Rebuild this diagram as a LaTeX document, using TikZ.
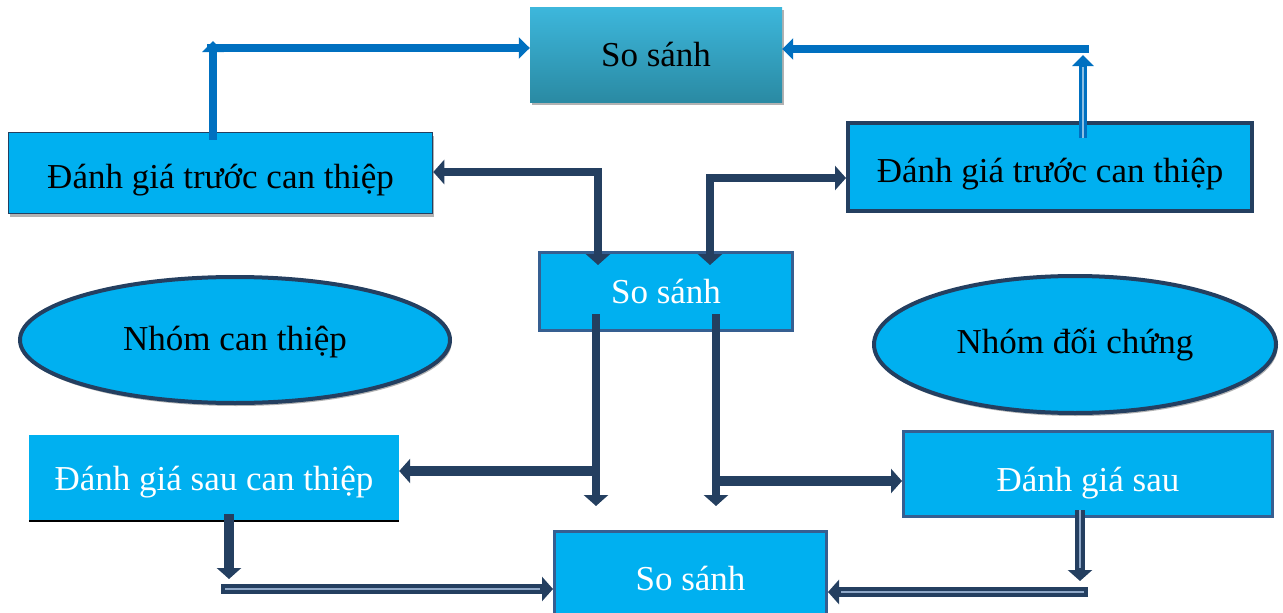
\documentclass[tikz,border=0pt]{standalone}
\usepackage{fontspec}
\setmainfont{Liberation Serif}
\usetikzlibrary{arrows.meta,shadows,shapes.geometric}
\definecolor{cy}{HTML}{00B0F0}
\definecolor{navy}{HTML}{243F60}
\definecolor{midb}{HTML}{365F91}
\definecolor{blu}{HTML}{0070C0}
\definecolor{tealtop}{HTML}{3DB7DC}
\definecolor{tealbot}{HTML}{2A8AA3}
\definecolor{inner}{HTML}{8FA8C8}
\newcommand{\lowerby}[2]{\raisebox{-#1pt}[\height][\depth]{#2}}
\begin{document}
\begin{tikzpicture}[x=1pt,y=-1pt,
  >={Triangle[width=24pt,length=11pt]},
  txt/.style={font=\fontsize{35}{40}\selectfont},
  boxbase/.style={rectangle,fill=cy,inner sep=0pt,txt},
  shad/.style={drop shadow={shadow xshift=1.5pt,shadow yshift=-3pt,fill=black!30,opacity=1}},
  conn/.style={draw=navy,line width=8.5pt},
  wconn/.style={draw=navy,line width=10pt},
  bconn/.style={draw=blu,line width=8.5pt,>={Triangle[width=21pt,length=11pt]}},
  innerline/.style={draw=inner,line width=1.3pt}]
\useasboundingbox (0,0) rectangle (1283,613);

% nodes
\node[boxbase,top color=tealtop,bottom color=tealbot,minimum width=252pt,minimum height=95pt,shad] (top) at (656,54.5) {So sánh};
\node[boxbase,draw=navy,line width=1.5pt,minimum width=424pt,minimum height=81pt,shad] (ltb) at (220.5,173) {\lowerby{7}{Đánh giá trước can thiệp}};
\node[boxbase,draw=navy,line width=4pt,minimum width=404pt,minimum height=88pt] (rtb) at (1050,167) {\lowerby{7}{Đánh giá trước can thiệp}};
\node[boxbase,draw=midb,line width=3pt,minimum width=253pt,minimum height=78pt,text=white] (mid) at (666,291.5) {So sánh};
\node[ellipse,fill=cy,draw=navy,line width=4pt,inner sep=0pt,minimum width=430pt,minimum height=126pt,txt,shad] (lel) at (235,340) {\lowerby{2}{Nhóm can thiệp}};
\node[ellipse,fill=cy,draw=navy,line width=4pt,inner sep=0pt,minimum width=402pt,minimum height=137pt,txt,shad] (rel) at (1075,344.5) {Nhóm đối chứng};
\node[boxbase,minimum width=370pt,minimum height=87pt,text=white] (lbb) at (214,478.5) {\lowerby{4}{Đánh giá sau can thiệp}};
\draw[black,line width=2.5pt] ([yshift=1pt]lbb.south west) -- ([yshift=1pt]lbb.south east);
\node[boxbase,draw=midb,line width=3pt,minimum width=369pt,minimum height=85pt,text=white] (rbb) at (1088,474) {\lowerby{9}{Đánh giá sau}};
\node[boxbase,draw=midb,line width=3pt,minimum width=272pt,minimum height=90pt,text=white] (bot) at (690.5,576.5) {\lowerby{2}{So sánh}};

% coordinates
\coordinate (cA) at (213,41);
\coordinate (hA) at (207,48);
\coordinate (cB) at (1083,55);
\coordinate (hB) at (1089,49);
\coordinate (c1) at (598,172);
\coordinate (c2) at (710,178);
\coordinate (d1) at (596,506);
\coordinate (b1) at (596,471);
\coordinate (d2) at (716,506);
\coordinate (b2) at (716,481);
\coordinate (e1) at (229,579);
\coordinate (h1) at (221,589);
\coordinate (e2) at (1080,581);
\coordinate (h2) at (1088,592);

% blue arrows to top
\draw[bconn,->] ([yshift=-8pt]ltb.north -| cA) -- (cA);
\draw[bconn,->] (hA) -- (top.west |- hA);
\draw[bconn,->] ([yshift=-17pt]rtb.north -| cB) -- (cB);
\draw[innerline,draw=blu!45] ([yshift=-17pt]rtb.north -| cB) -- ([yshift=-12pt]cB);
\draw[bconn,->] (hB) -- (top.east |- hB);

% dark double arrows
\draw[conn,<->] (ltb.east |- c1) -- (c1) -- ([yshift=-14pt]mid.north -| c1);
\draw[conn,<->] ([yshift=-14pt]mid.north -| c2) -- (c2) -- (rtb.west |- c2);

% from middle compare
\draw[conn,->] ([yshift=18pt]mid.south -| d1) -- (d1);
\draw[wconn,->] (b1) -- (lbb.east |- b1);
\draw[conn,->] ([yshift=18pt]mid.south -| d2) -- (d2);
\draw[wconn,->] (b2) -- (rbb.west |- b2);

% to bottom compare
\draw[wconn,->] ([yshift=8pt]lbb.south -| e1) -- (e1);
\draw[wconn,->] (h1) -- (bot.west |- h1);
\draw[innerline] ([xshift=4pt]h1) -- ([xshift=-13pt]bot.west |- h1);
\draw[wconn,->] ([yshift=8pt]rbb.south -| e2) -- (e2);
\draw[innerline] ([yshift=8pt]rbb.south -| e2) -- ([yshift=13pt]e2);
\draw[wconn,->] (h2) -- (bot.east |- h2);
\draw[innerline] ([xshift=-4pt]h2) -- ([xshift=13pt]bot.east |- h2);
\end{tikzpicture}
\end{document}
